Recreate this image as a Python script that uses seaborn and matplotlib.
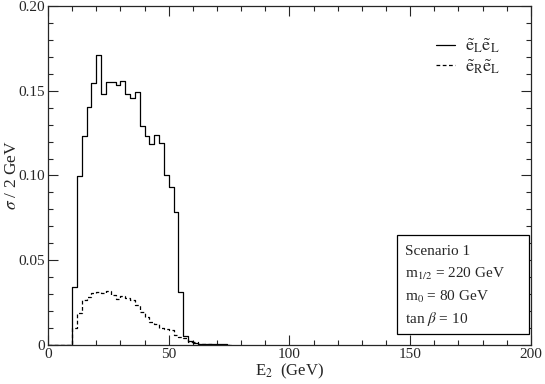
import numpy as np
import pandas as pd
import seaborn as sns
import matplotlib.pyplot as plt
from matplotlib.patches import Rectangle
from matplotlib.ticker import MultipleLocator, FixedLocator

# lower edges of the 2 GeV bins (GeV)
e_low = np.arange(10, 76, 2)

# sigma / 2 GeV
sig_LL = [0.0344, 0.0998, 0.1234, 0.1407, 0.1548, 0.1708, 0.1482, 0.1554,
          0.1550, 0.1531, 0.1560, 0.1478, 0.1458, 0.1494, 0.1293, 0.1234,
          0.1187, 0.1240, 0.1194, 0.1004, 0.0934, 0.0787, 0.0315, 0.0053,
          0.0025, 0.0014, 0.0006, 0.0006, 0.0003, 0.0003, 0.0003, 0.0003, 0.0]
sig_RL = [0.0098, 0.0187, 0.0266, 0.0285, 0.0305, 0.0310, 0.0305, 0.0320,
          0.0295, 0.0272, 0.0290, 0.0280, 0.0266, 0.0235, 0.0197, 0.0167,
          0.0134, 0.0122, 0.0102, 0.0092, 0.0088, 0.0059, 0.0049, 0.0040,
          0.0020, 0.0016, 0.0008, 0.0005, 0.0003, 0.0, 0.0, 0.0, 0.0]

lab_LL = r'$\tilde{\mathrm{e}}_{\mathrm{L}}\tilde{\mathrm{e}}_{\mathrm{L}}$'
lab_RL = r'$\tilde{\mathrm{e}}_{\mathrm{R}}\tilde{\mathrm{e}}_{\mathrm{L}}$'

x_ticks = [0, 50, 100, 150, 200]
y_ticks = [0, 0.05, 0.10, 0.15, 0.20]
y_ticklabels = ["0", "0.05", "0.10", "0.15", "0.20"]

info_lines = ["Scenario 1", r"m$_{1/2}$ = 220 GeV", r"m$_0$ = 80 GeV", r"tan $\beta$ = 10"]

sns.set_style("ticks")
plt.rcParams['font.family'] = ['Liberation Serif', 'DejaVu Serif']
plt.rcParams['mathtext.fontset'] = 'stix'


def step_frame(vals):
    # pad with zero at the start and repeat last value at the closing edge
    x = [0.0] + list(e_low) + [e_low[-1] + 2]
    y = [0.0] + list(vals) + [vals[-1]]
    return pd.DataFrame({"E": x, "sig": y})


fig = plt.figure(figsize=(5.45, 3.84), dpi=100)
ax = fig.add_axes([0.088, 0.1016, 0.886, 0.8828])

sns.lineplot(data=step_frame(sig_LL), x="E", y="sig", ax=ax, color="black",
             lw=0.9, drawstyle="steps-post", label=lab_LL, estimator=None)
sns.lineplot(data=step_frame(sig_RL), x="E", y="sig", ax=ax, color="black",
             lw=0.9, drawstyle="steps-post", label=lab_RL, estimator=None,
             linestyle=(0, (3, 2)))

ax.set_xlim(0, 200)
ax.set_ylim(0, 0.20)
ax.xaxis.set_major_locator(FixedLocator(x_ticks))
ax.xaxis.set_minor_locator(MultipleLocator(10))
ax.yaxis.set_major_locator(FixedLocator(y_ticks))
ax.set_yticklabels(y_ticklabels)
ax.yaxis.set_minor_locator(MultipleLocator(0.01))
ax.tick_params(which="both", direction="in", top=True, right=True,
               labelsize=11, width=0.8)
ax.tick_params(which="major", length=7, pad=2)
ax.tick_params(which="minor", length=3.5)
for s in ax.spines.values():
    s.set_linewidth(0.9)

ax.set_xlabel(r"E$_2$  (GeV)", fontsize=12)
ax.set_ylabel(r"$\sigma$ / 2 GeV", fontsize=12.5)
ax.xaxis.set_label_coords(0.5, -0.05)
ax.yaxis.set_label_coords(-0.058, 0.5)

ax.legend(loc="upper right", frameon=False, fontsize=13, handlelength=1.05,
          borderaxespad=1.3, labelspacing=0.12, handletextpad=0.55)

# parameter box
ax.add_patch(Rectangle((0.7226, 0.033), 0.2733, 0.2915, transform=ax.transAxes,
                       fc="white", ec="black", lw=0.9, zorder=3))
for txt, yy in zip(info_lines, [0.277, 0.209, 0.142, 0.076]):
    ax.text(0.739, yy, txt, transform=ax.transAxes, ha="left", va="center",
            fontsize=11, zorder=4)

fig.savefig("out.png", dpi=100)
